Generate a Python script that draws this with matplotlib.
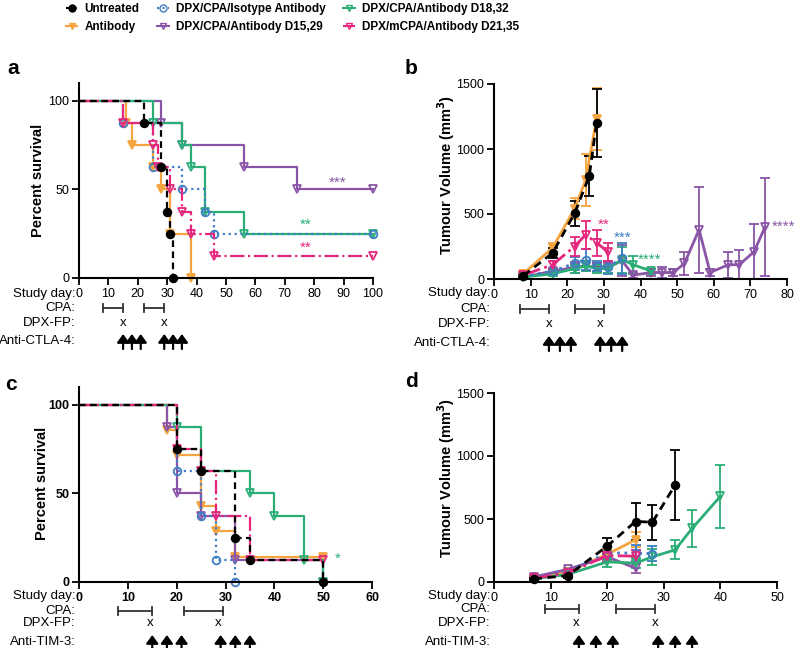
import matplotlib
matplotlib.use('Agg')
import matplotlib.pyplot as plt
from matplotlib.lines import Line2D

plt.rcParams['font.family'] = ['Liberation Sans', 'DejaVu Sans']

# ---- groups ----
groups = ['Untreated', 'Antibody', 'DPX/CPA/Isotype Antibody',
          'DPX/CPA/Antibody D15,29', 'DPX/CPA/Antibody D18,32',
          'DPX/mCPA/Antibody D21,35']
colors = ['#000000', '#F5A540', '#3F7EC4', '#8A55A6', '#2BAE76', '#E5267D']
lstyles = [(0, (3, 2)), '-', ':', '-', '-', '-.']
markers = ['o', 'v', 'o', 'v', 'v', 'v']
filled = [True, True, False, False, False, False]

# ---- panel a: survival, anti-CTLA-4 ----
a_t = {
    'Untreated': [0, 22, 28, 30, 31, 32],
    'Antibody': [0, 16, 18, 25, 28, 31, 38],
    'DPX/CPA/Isotype Antibody': [0, 15, 25, 35, 43, 46, 100],
    'DPX/CPA/Antibody D15,29': [0, 28, 35, 56, 74, 100],
    'DPX/CPA/Antibody D18,32': [0, 25, 35, 38, 43, 56, 100],
    'DPX/mCPA/Antibody D21,35': [0, 15, 25, 27, 31, 35, 38, 46, 100],
}
a_s = {
    'Untreated': [100, 87.5, 62.5, 37.5, 25, 0],
    'Antibody': [100, 87.5, 75, 62.5, 50, 25, 0],
    'DPX/CPA/Isotype Antibody': [100, 87.5, 62.5, 50, 37.5, 25, 25],
    'DPX/CPA/Antibody D15,29': [100, 87.5, 75, 62.5, 50, 50],
    'DPX/CPA/Antibody D18,32': [100, 87.5, 75, 62.5, 37.5, 25, 25],
    'DPX/mCPA/Antibody D21,35': [100, 87.5, 75, 62.5, 50, 37.5, 25, 12.5, 12.5],
}
a_stars = [('***', 88, 50, '#8A55A6'), ('**', 77, 26, '#2BAE76'), ('**', 77, 13, '#E5267D')]

# ---- panel b: tumour volume, anti-CTLA-4 ----
b_day = {
    'Untreated': [8, 16, 22, 26, 28],
    'Antibody': [8, 16, 22, 25, 28],
    'DPX/CPA/Isotype Antibody': [8, 16, 22, 25, 28, 31, 35],
    'DPX/CPA/Antibody D15,29': [8, 16, 22, 25, 28, 31, 35, 38, 43, 46, 49, 52, 56, 59, 64, 67, 71, 74],
    'DPX/CPA/Antibody D18,32': [8, 16, 22, 25, 28, 31, 35, 38, 43],
    'DPX/mCPA/Antibody D21,35': [8, 16, 22, 25, 28, 31],
}
b_vol = {
    'Untreated': [25, 200, 505, 790, 1200],
    'Antibody': [40, 240, 540, 760, 1230],
    'DPX/CPA/Isotype Antibody': [20, 60, 120, 150, 100, 90, 160],
    'DPX/CPA/Antibody D15,29': [15, 60, 90, 100, 90, 90, 140, 30, 50, 50, 50, 120, 380, 50, 110, 110, 210, 400],
    'DPX/CPA/Antibody D18,32': [15, 40, 80, 100, 80, 80, 150, 110, 60],
    'DPX/mCPA/Antibody D21,35': [30, 110, 250, 340, 280, 210],
}
b_err = {
    'Untreated': [10, 40, 95, 155, 265],
    'Antibody': [10, 40, 80, 200, 240],
    'DPX/CPA/Isotype Antibody': [5, 20, 50, 80, 40, 50, 120],
    'DPX/CPA/Antibody D15,29': [5, 20, 40, 40, 30, 40, 120, 20, 30, 40, 30, 90, 330, 30, 100, 110, 210, 380],
    'DPX/CPA/Antibody D18,32': [5, 15, 30, 40, 30, 30, 100, 70, 20],
    'DPX/mCPA/Antibody D21,35': [10, 30, 70, 110, 100, 70],
}
b_stars = [('**', 30, 420, '#E5267D'), ('***', 35, 320, '#3F7EC4'),
           ('****', 42.5, 145, '#2BAE76'), ('****', 79, 400, '#8A55A6')]

# ---- panel c: survival, anti-TIM-3 ----
c_t = {
    'Untreated': [0, 20, 25, 32, 35, 50],
    'Antibody': [0, 18, 20, 25, 28, 32, 50],
    'DPX/CPA/Isotype Antibody': [0, 20, 25, 28, 32],
    'DPX/CPA/Antibody D15,29': [0, 18, 20, 25, 32, 50],
    'DPX/CPA/Antibody D18,32': [0, 20, 25, 35, 40, 46, 50],
    'DPX/mCPA/Antibody D21,35': [0, 20, 25, 28, 35, 50],
}
c_s = {
    'Untreated': [100, 75, 62.5, 25, 12.5, 0],
    'Antibody': [100, 85.7, 71.4, 42.9, 28.6, 14.3, 14.3],
    'DPX/CPA/Isotype Antibody': [100, 62.5, 37.5, 12.5, 0],
    'DPX/CPA/Antibody D15,29': [100, 87.5, 50, 37.5, 12.5, 0],
    'DPX/CPA/Antibody D18,32': [100, 87.5, 62.5, 50, 37.5, 12.5, 0],
    'DPX/mCPA/Antibody D21,35': [100, 75, 62.5, 37.5, 12.5, 12.5],
}
c_stars = [('*', 53, 13, '#2BAE76')]

# ---- panel d: tumour volume, anti-TIM-3 ----
d_day = {
    'Untreated': [7, 13, 20, 25, 28, 32],
    'Antibody': [7, 13, 20, 25],
    'DPX/CPA/Isotype Antibody': [7, 13, 20, 25, 28],
    'DPX/CPA/Antibody D15,29': [7, 13, 20, 25],
    'DPX/CPA/Antibody D18,32': [7, 13, 20, 25, 28, 32, 35, 40],
    'DPX/mCPA/Antibody D21,35': [7, 13, 20, 25],
}
d_vol = {
    'Untreated': [25, 50, 285, 480, 475, 770],
    'Antibody': [30, 80, 220, 335],
    'DPX/CPA/Isotype Antibody': [30, 80, 230, 230, 225],
    'DPX/CPA/Antibody D15,29': [40, 100, 200, 110],
    'DPX/CPA/Antibody D18,32': [25, 60, 160, 150, 200, 255, 425, 680],
    'DPX/mCPA/Antibody D21,35': [30, 70, 210, 205],
}
d_err = {
    'Untreated': [10, 15, 65, 150, 140, 280],
    'Antibody': [10, 15, 40, 60],
    'DPX/CPA/Isotype Antibody': [10, 15, 50, 60, 60],
    'DPX/CPA/Antibody D15,29': [10, 15, 40, 40],
    'DPX/CPA/Antibody D18,32': [10, 15, 40, 40, 65, 75, 150, 250],
    'DPX/mCPA/Antibody D21,35': [10, 15, 40, 50],
}

# ---- treatment schedules ----
ctla_cpa_a = [(8, 15), (22, 29)]
ctla_cpa_b = [(7, 15), (22, 30)]
ctla_dpx = [15, 29]
ctla_ab = [15, 18, 21, 29, 32, 35]
tim_cpa_c = [(8, 15), (21.5, 29.5)]
tim_cpa_d = [(9, 15), (21.5, 28.5)]
tim_dpx = [14.5, 28.5]
tim_ab = [15, 18, 21, 29, 32, 35]

draw_order = [1, 3, 4, 2, 5, 0]
W, H = 800, 648

fig = plt.figure(figsize=(8, 6.48), dpi=100)
ax_a = fig.add_axes([79 / W, 1 - 278 / H, 294 / W, 195 / H])
ax_b = fig.add_axes([494 / W, 1 - 279 / H, 293 / W, 195 / H])
ax_c = fig.add_axes([79 / W, 1 - 582 / H, 293 / W, 195 / H])
ax_d = fig.add_axes([494 / W, 1 - 582 / H, 283 / W, 189 / H])


def style_axis(ax, xmax, xstep, ymax, yticks, bold=False):
    for sp in ['top', 'right']:
        ax.spines[sp].set_visible(False)
    for sp in ['left', 'bottom']:
        ax.spines[sp].set_linewidth(1.5)
    ax.set_xlim(0, xmax)
    ax.set_ylim(0, ymax)
    ax.set_xticks(range(0, xmax + 1, xstep))
    ax.set_yticks(yticks)
    ax.tick_params(direction='out', length=5, width=1.3, labelsize=9, pad=2)
    if bold:
        for lab in ax.get_xticklabels() + ax.get_yticklabels():
            lab.set_fontweight('bold')


def km(ax, times, surv):
    for i in draw_order:
        g = groups[i]
        t, s = times[g], surv[g]
        ax.step(t, s, where='post', color=colors[i], ls=lstyles[i], lw=1.6,
                clip_on=False)
        ax.plot(t[1:], s[1:], ls='none', marker=markers[i], ms=5.5,
                mfc=colors[i] if filled[i] else 'none', mec=colors[i],
                mew=1.3, clip_on=False)


def growth(ax, days, vols, errs):
    for i in draw_order:
        g = groups[i]
        ax.errorbar(days[g], vols[g], yerr=errs[g], color=colors[i],
                    ls=lstyles[i], lw=2.0, marker=markers[i], ms=5.5,
                    mfc=colors[i] if filled[i] else 'none', mec=colors[i],
                    mew=1.3, capsize=3.5, elinewidth=1.3, capthick=1.3,
                    clip_on=False)


def schedule(ax, cpa, dpx, ab, ab_name, rows):
    h = ax.get_position().height * H
    tr = ax.get_xaxis_transform()
    labels = ['Study day:', 'CPA:', 'DPX-FP:', ab_name + ':']
    for name, r in zip(labels, rows):
        ax.text(-0.012, -r / h, name, transform=ax.transAxes, ha='right',
                va='center', fontsize=9.5, clip_on=False)
    y = -rows[1] / h
    cap = 4 / h
    for d1, d2 in cpa:
        ax.plot([d1, d2], [y, y], color='#333333', lw=1.3, transform=tr, clip_on=False)
        for d in (d1, d2):
            ax.plot([d, d], [y - cap, y + cap], color='#333333', lw=1.3,
                    transform=tr, clip_on=False)
    for d in dpx:
        ax.text(d, -rows[2] / h, 'x', transform=tr, ha='center', va='center',
                fontsize=9.5, clip_on=False)
    ya = -rows[3] / h
    for d in ab:
        ax.annotate('', xy=(d, ya + 7 / h), xytext=(d, ya - 8 / h),
                    xycoords=tr, textcoords=tr,
                    arrowprops=dict(arrowstyle='-|>,head_width=0.4,head_length=0.55',
                                    color='black', lw=1.6, mutation_scale=9,
                                    shrinkA=0, shrinkB=0))


# panel a
style_axis(ax_a, 100, 10, 110, [0, 50, 100])
km(ax_a, a_t, a_s)
for txt, x, y, c in a_stars:
    ax_a.text(x, y, txt, color=c, fontsize=11, ha='center', va='bottom')
schedule(ax_a, ctla_cpa_a, ctla_dpx, ctla_ab, 'Anti-CTLA-4', [16, 30, 45, 63])

# panel b
style_axis(ax_b, 80, 10, 1500, [0, 500, 1000, 1500])
growth(ax_b, b_day, b_vol, b_err)
for txt, x, y, c in b_stars:
    ax_b.text(x, y, txt, color=c, fontsize=11, ha='center', va='center',
              clip_on=False)
schedule(ax_b, ctla_cpa_b, ctla_dpx, ctla_ab, 'Anti-CTLA-4', [14, 30, 45, 64])

# panel c
style_axis(ax_c, 60, 10, 110, [0, 50, 100], bold=True)
km(ax_c, c_t, c_s)
for txt, x, y, c in c_stars:
    ax_c.text(x, y, txt, color=c, fontsize=11, ha='center', va='center')
schedule(ax_c, tim_cpa_c, tim_dpx, tim_ab, 'Anti-TIM-3', [14, 29, 41, 60])

# panel d
style_axis(ax_d, 50, 10, 1500, [0, 500, 1000, 1500])
growth(ax_d, d_day, d_vol, d_err)
schedule(ax_d, tim_cpa_d, tim_dpx, tim_ab, 'Anti-TIM-3', [14, 27, 41, 60])

# axis titles and panel letters
fig.text(38 / W, 1 - 180 / H, 'Percent survival', rotation=90, ha='center',
         va='center', fontsize=10.5, fontweight='bold')
fig.text(42 / W, 1 - 483 / H, 'Percent survival', rotation=90, ha='center',
         va='center', fontsize=10.5, fontweight='bold')
fig.text(446 / W, 1 - 175 / H, 'Tumour Volume (mm$^\\mathbf{3}$)', rotation=90,
         ha='center', va='center', fontsize=10.5, fontweight='bold')
fig.text(446 / W, 1 - 478 / H, 'Tumour Volume (mm$^\\mathbf{3}$)', rotation=90,
         ha='center', va='center', fontsize=10.5, fontweight='bold')
for letter, x, y in [('a', 7, 69), ('b', 405, 69), ('c', 5, 385), ('d', 405, 382)]:
    fig.text(x / W, 1 - y / H, letter, fontsize=15, fontweight='bold',
             ha='left', va='center')

# legend
handles = [Line2D([], [], color=colors[i], ls=lstyles[i], lw=1.5,
                  marker=markers[i], ms=5,
                  mfc=colors[i] if filled[i] else 'none', mec=colors[i])
           for i in range(len(groups))]
fig.legend(handles, groups, ncol=3,
           loc='upper left', bbox_to_anchor=(55 / W, 1.012), frameon=False,
           handlelength=1.0, handletextpad=0.6, columnspacing=1.5,
           labelspacing=0.55, prop={'weight': 'bold', 'size': 8.5})

fig.savefig('out.png', dpi=100)
